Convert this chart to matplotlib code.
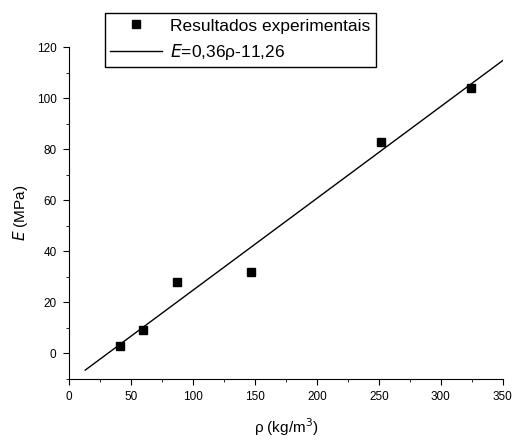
import numpy as np
import matplotlib
matplotlib.use("Agg")
import matplotlib.pyplot as plt
from matplotlib.ticker import MultipleLocator

plt.rcParams["font.family"] = ["Liberation Sans", "DejaVu Sans"]

# experimental data
rho = [41, 60, 87, 147, 252, 324]
E = [3, 9, 28, 32, 83, 104]

# linear fit E = a*rho + b
fit_a = 0.36
fit_b = -11.26
fit_range = [13, 350]

fig = plt.figure(figsize=(5.12, 4.4), dpi=100)
ax = fig.add_axes([0.135, 0.139, 0.847, 0.754])

ax.plot(rho, E, "s", color="black", markersize=5.5, label="Resultados experimentais")
xf = np.array(fit_range)
ax.plot(xf, fit_a * xf + fit_b, "-", color="black", linewidth=1,
        label="$E$=0,36\u03c1-11,26")

ax.set_xlim(0, 350)
ax.set_ylim(-10, 120)
ax.xaxis.set_major_locator(MultipleLocator(50))
ax.xaxis.set_minor_locator(MultipleLocator(25))
ax.yaxis.set_major_locator(MultipleLocator(20))
ax.yaxis.set_minor_locator(MultipleLocator(10))
ax.spines["top"].set_visible(False)
ax.spines["right"].set_visible(False)
ax.tick_params(which="both", direction="out", labelsize=8.5, pad=5)
ax.tick_params(which="major", length=4)
ax.tick_params(which="minor", length=2.5)

ax.set_xlabel("\u03c1 (kg/m$^3$)", fontsize=11, labelpad=9)
ax.set_ylabel("$E$ (MPa)", fontsize=11, labelpad=5)

leg = fig.legend(loc="upper left", bbox_to_anchor=(0.205, 0.97),
                 fontsize=12.5, frameon=True, fancybox=False, framealpha=1,
                 edgecolor="black", handlelength=3.0, borderpad=0.3,
                 handletextpad=0.45, labelspacing=0.5, borderaxespad=0)
leg.get_frame().set_linewidth(1)

fig.savefig("out.png", dpi=100)
